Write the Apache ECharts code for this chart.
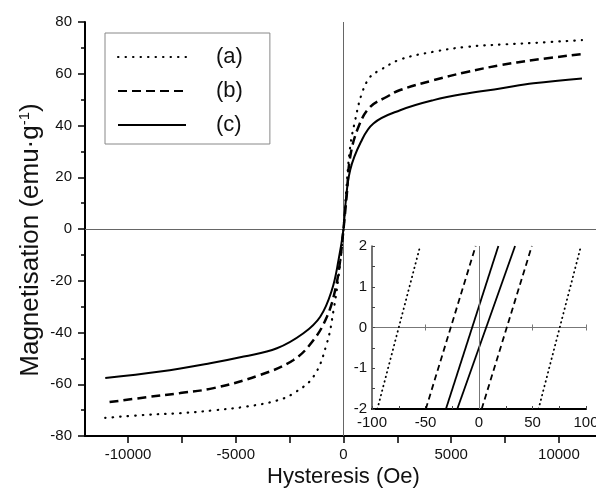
<!DOCTYPE html>
<html><head><meta charset="utf-8">
<script src="https://cdn.jsdelivr.net/npm/echarts@6/dist/echarts.min.js"></script>
<style>html,body{margin:0;padding:0;background:#fff}#c{width:596px;height:489px}</style>
</head><body><div id="c"></div>
<script>
// Main curves: [field (Oe), magnetisation (emu/g)]
const curveA = [[-11060,-73.0],[-9130,-71.8],[-7580,-71.2],[-6030,-70.1],[-4490,-68.6],[-3090,-66.3],[-2320,-63.5],[-1390,-57.0],[-770,-44.1],[-460,-31.3],[-230,-18.4],[-70,-6],[0,0],[120,14],[311,31.8],[543,42.1],[854,52.4],[1240,58.8],[1700,61.4],[2630,65.5],[4180,68.5],[5730,70.4],[7590,71.4],[8820,71.9],[11070,73.0]];
const curveB = [[-10860,-66.9],[-9130,-65.0],[-7580,-63.4],[-6030,-61.5],[-3870,-56.4],[-2320,-50.6],[-1390,-42.9],[-770,-33.9],[-385,-23.6],[-153,-12],[0,0],[150,13],[311,27.9],[696,39.5],[1240,47.2],[2015,51.1],[2630,53.7],[4180,57.5],[5730,60.7],[7280,63.3],[8820,65.3],[11070,67.6]];
const curveC = [[-11060,-57.6],[-8510,-55.1],[-6190,-51.9],[-4630,-49.3],[-3090,-46.1],[-1860,-40.3],[-1080,-33.9],[-540,-23.6],[-230,-12.0],[0,0],[79,8.6],[311,22.8],[800,33.5],[1390,40.8],[2630,45.9],[4180,49.8],[5730,52.4],[7280,54.3],[8820,56.3],[11070,58.2]];
// Inset branches near the origin (descending / ascending)
const insetA_desc = [[-95,-2],[-55,2]];
const insetA_asc  = [[55.6,-2],[95.3,2]];
const insetB_desc = [[-49.7,-2],[-3.1,2]];
const insetB_asc  = [[2.5,-2],[49.4,2]];
const insetC_desc = [[-30.9,-2],[18.1,2]];
const insetC_asc  = [[-20.3,-2],[33.7,2]];
const seriesNames = ['(a)','(b)','(c)'];
const xTickValues = [-10000,-7500,-5000,-2500,0,2500,5000,7500,10000];
const xLabelValues = [-10000,-5000,0,5000,10000];

const FONT = 'Liberation Sans, Arial, sans-serif';
const dotStyle  = {color:'#000', width:2.2, type:[0.5,7], cap:'round'};
const dashStyle = {color:'#000', width:2.5, type:[9,5]};
const solidStyle= {color:'#000', width:2, type:'solid'};
const dotIn  = {color:'#000', width:1.8, type:[0.5,4.2], cap:'round'};
const dashIn = {color:'#000', width:1.8, type:[6,4]};
const solidIn= {color:'#000', width:1.8, type:'solid'};

function inset(name, data, ls){
  return {name:name, type:'line', xAxisIndex:1, yAxisIndex:1, data:data, symbol:'none', lineStyle:ls, z:3, silent:true};
}

const chart = echarts.init(document.getElementById('c'), null, {renderer:'canvas'});
chart.setOption({
  animation:false,
  backgroundColor:'#fff',
  textStyle:{fontFamily:FONT},
  legend:{
    data:seriesNames, orient:'vertical', left:105, top:33, selectedMode:false,
    itemWidth:68, itemHeight:14, itemGap:12, padding:[13,27,8,12],
    borderColor:'#888', borderWidth:1,
    itemStyle:{opacity:0},
    textStyle:{fontSize:22, color:'#111', fontFamily:FONT, padding:[0,0,0,25]}
  },
  grid:[
    {left:85, right:-6, top:22, height:414, outerBoundsMode:'none', containLabel:false},
    {left:372, top:246, width:214, height:163, outerBoundsMode:'none', containLabel:false},
    {left:372, top:246, width:214, height:163, outerBoundsMode:'none', containLabel:false}
  ],
  xAxis:[
    {type:'value', gridIndex:0, min:-12000, max:12000,
     axisLine:{onZero:false, lineStyle:{color:'#000', width:2}},
     axisTick:{show:true, length:7, customValues:xTickValues, lineStyle:{color:'#000', width:1.5}},
     axisLabel:{customValues:xLabelValues, fontSize:15, color:'#111', margin:11, fontFamily:FONT,
       formatter:function(v){return String(v);}},
     splitLine:{show:false},
     name:'Hysteresis (Oe)', nameLocation:'middle', nameGap:30, nameMoveOverlap:false,
     nameTextStyle:{fontSize:22, color:'#111', fontFamily:FONT}},
    {type:'value', gridIndex:1, min:-100, max:100, interval:50, position:'bottom',
     axisLine:{onZero:false, lineStyle:{color:'#000', width:2}},
     axisTick:{show:true, inside:true, length:3, lineStyle:{color:'#444'}},
     minorTick:{show:true, splitNumber:2, length:3, lineStyle:{color:'#444'}},
     axisLabel:{fontSize:15, color:'#111', margin:6, fontFamily:FONT, hideOverlap:false},
     splitLine:{show:false}},
    {type:'value', gridIndex:1, min:-100, max:100, interval:50, position:'top',
     axisLine:{onZero:true, lineStyle:{color:'#777', width:1}},
     axisTick:{show:true, length:3, lineStyle:{color:'#777'}},
     axisLabel:{show:false}, splitLine:{show:false}},
    {type:'value', gridIndex:2, min:-100, max:100, interval:50, position:'bottom',
     axisLine:{onZero:true, lineStyle:{color:'#777', width:1}},
     axisTick:{show:true, length:3, lineStyle:{color:'#777'}},
     axisLabel:{show:false}, splitLine:{show:false}}
  ],
  yAxis:[
    {type:'value', gridIndex:0, min:-80, max:80, interval:20,
     axisLine:{show:true, onZero:false, lineStyle:{color:'#000', width:2}},
     axisTick:{show:true, length:7, lineStyle:{color:'#000', width:1.5}},
     minorTick:{show:true, splitNumber:2, length:4, lineStyle:{color:'#000', width:1.5}},
     axisLabel:{fontSize:15, color:'#111', margin:13, fontFamily:FONT},
     splitLine:{show:false},
     name:'{t|Magnetisation (emu·g}{s|-1}{t|)}', nameLocation:'middle', nameGap:40, nameMoveOverlap:false,
     nameTextStyle:{fontSize:26, color:'#111', fontFamily:FONT, padding:[0,22,0,0],
       rich:{t:{fontSize:26, color:'#111', fontFamily:FONT}, s:{fontSize:15, color:'#111', fontFamily:FONT, padding:[0,0,13,0]}}}},
    {type:'value', gridIndex:1, min:-2, max:2, interval:1,
     axisLine:{show:true, onZero:false, lineStyle:{color:'#444', width:1.5}},
     axisTick:{show:true, inside:true, length:3, lineStyle:{color:'#444'}},
     minorTick:{show:true, splitNumber:2, length:3, lineStyle:{color:'#444'}},
     axisLabel:{fontSize:15, color:'#111', margin:5, fontFamily:FONT},
     splitLine:{show:false}},
    {type:'value', gridIndex:2, min:-2, max:2, show:false}
  ],
  series:[
    {name:'(a)', type:'line', data:curveA, symbol:'none', lineStyle:dotStyle, smooth:0.4, z:3, silent:true},
    {name:'(b)', type:'line', data:curveB, symbol:'none', lineStyle:dashStyle, smooth:0.4, z:3, silent:true},
    {name:'(c)', type:'line', data:curveC, symbol:'none', lineStyle:solidStyle, smooth:0.4, z:3, silent:true,
     markLine:{silent:true, symbol:'none', label:{show:false}, z:1,
       lineStyle:{color:'#666', width:1, type:'solid'},
       data:[{xAxis:0},{yAxis:0}]}},
    inset('ia1', insetA_desc, dotIn), inset('ia2', insetA_asc, dotIn),
    inset('ib1', insetB_desc, dashIn), inset('ib2', insetB_asc, dashIn),
    Object.assign(inset('ic1', insetC_desc, solidIn), {markLine:{silent:true, symbol:'none', label:{show:false},
       lineStyle:{color:'#777', width:1, type:'solid'}, data:[{xAxis:0}]}}),
    inset('ic2', insetC_asc, solidIn)
  ]
});
</script></body></html>
